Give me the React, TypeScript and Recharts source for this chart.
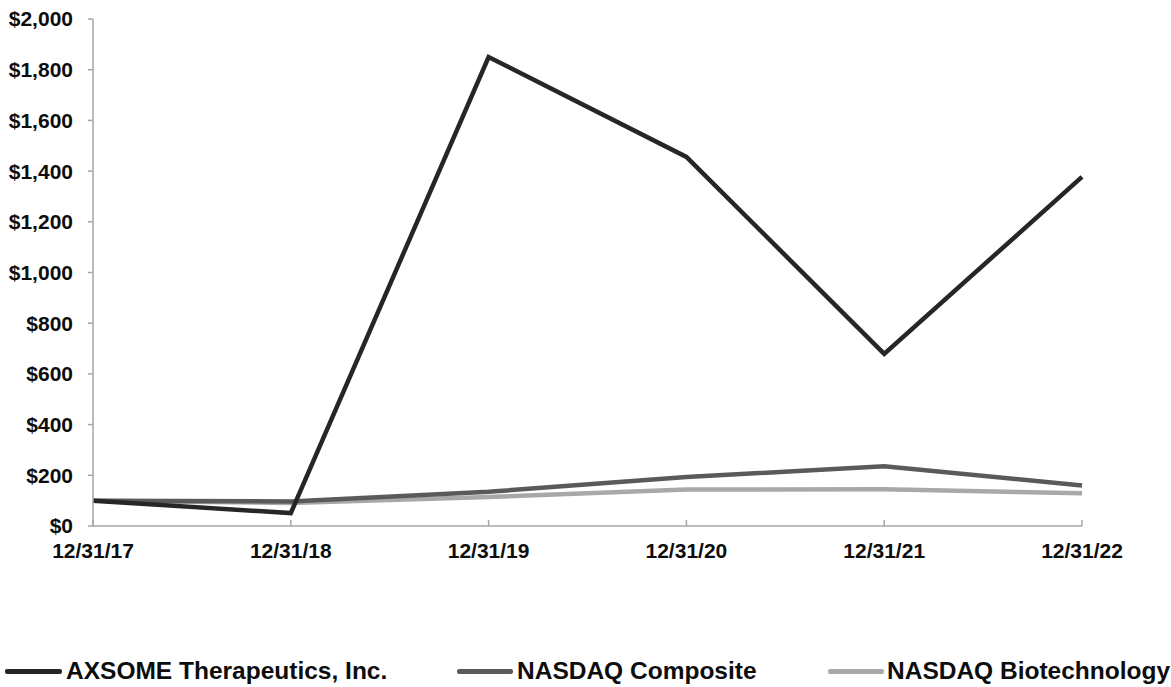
import React from "react";
import { LineChart, Line, XAxis, YAxis, Legend } from "recharts";

const categories = ["12/31/17", "12/31/18", "12/31/19", "12/31/20", "12/31/21", "12/31/22"];
const axsome = [100, 51, 1850, 1456, 679, 1377];
const nasdaqComposite = [100, 97, 135, 193, 236, 160];
const nasdaqBiotech = [100, 91, 114, 144, 145, 129];
const yTicks = [0, 200, 400, 600, 800, 1000, 1200, 1400, 1600, 1800, 2000];

const seriesNames = ["AXSOME Therapeutics, Inc.", "NASDAQ Composite", "NASDAQ Biotechnology"];
const seriesColors = ["#262626", "#5a5a5a", "#a8a8a8"];

const data = categories.map((c, i) => ({
  date: c,
  axsome: axsome[i],
  composite: nasdaqComposite[i],
  biotech: nasdaqBiotech[i],
}));

const FONT = "'Liberation Sans', Arial, sans-serif";

const fmt = (v: number) => "$" + v.toLocaleString("en-US");

const XTick = (props: any) => {
  const { x, y, payload } = props;
  return (
    <g>
      <line x1={x} x2={x} y1={y - 6} y2={y} stroke="#a6a6a6" strokeWidth={1.5} />
      <text x={x} y={y + 25} dy="0.355em" textAnchor="middle" fontFamily={FONT} fontWeight="bold" fontSize={21} fill="#0d0d0d">
        {payload.value}
      </text>
    </g>
  );
};

const legendPos = [
  { line: [5, 62], text: 66 },
  { line: [457, 513], text: 517 },
  { line: [828, 884], text: 887 },
];

const LegendContent = () => (
  <div style={{ position: "relative", width: 1171, height: 34 }}>
    {seriesNames.map((n, i) => (
      <React.Fragment key={n}>
        <div
          style={{
            position: "absolute",
            left: legendPos[i].line[0],
            width: legendPos[i].line[1] - legendPos[i].line[0],
            top: 15,
            height: 5,
            borderRadius: 2,
            background: seriesColors[i],
          }}
        />
        <div
          style={{
            position: "absolute",
            left: legendPos[i].text,
            top: 2,
            fontFamily: FONT,
            fontWeight: "bold",
            fontSize: 24.5,
            lineHeight: "30px",
            color: "#0d0d0d",
            whiteSpace: "nowrap",
          }}
        >
          {n}
        </div>
      </React.Fragment>
    ))}
  </div>
);

export default function App() {
  return (
    <div style={{ position: "absolute", left: 0, top: 0, width: 1171, height: 687, background: "#fff" }}>
      <LineChart width={1171} height={687} data={data} margin={{ top: 19, right: 89, bottom: 131, left: 5 }}>
        <XAxis
          dataKey="date"
          height={30}
          tick={<XTick />}
          tickLine={false}
          tickSize={0}
          tickMargin={0}
          axisLine={{ stroke: "#a6a6a6", strokeWidth: 1.5 }}
          interval={0}
        />
        <YAxis
          width={88}
          domain={[0, 2000]}
          ticks={yTicks}
          tickFormatter={fmt}
          tickSize={5}
          tickMargin={15}
          tickLine={{ stroke: "#a6a6a6", strokeWidth: 1.5 }}
          axisLine={{ stroke: "#a6a6a6", strokeWidth: 1.5 }}
          tick={{ fontFamily: FONT, fontWeight: "bold", fontSize: 21, fill: "#0d0d0d" }}
          interval={0}
        />
        <Legend
          layout="vertical"
          align="center"
          verticalAlign="middle"
          content={<LegendContent />}
          wrapperStyle={{ top: 654, left: 0, width: 1171, height: 34 }}
        />
        <Line type="linear" dataKey="biotech" stroke={seriesColors[2]} strokeWidth={4.5} dot={false} isAnimationActive={false} />
        <Line type="linear" dataKey="composite" stroke={seriesColors[1]} strokeWidth={4.5} dot={false} isAnimationActive={false} />
        <Line type="linear" dataKey="axsome" stroke={seriesColors[0]} strokeWidth={4.5} dot={false} isAnimationActive={false} />
      </LineChart>
    </div>
  );
}
